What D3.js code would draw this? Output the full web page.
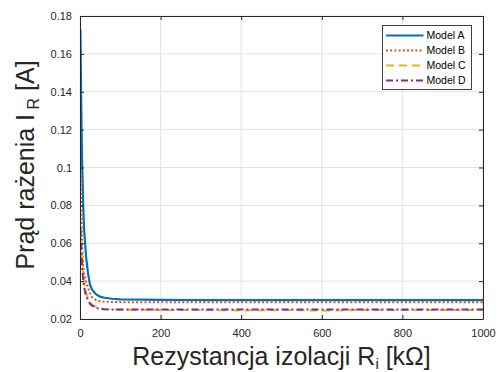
<!DOCTYPE html>
<html>
<head>
<meta charset="utf-8">
<script src="https://cdn.jsdelivr.net/npm/d3@7"></script>
<style>
  body { margin: 0; background: #fff; }
  svg { display: block; font-family: 'Liberation Sans', Arial, sans-serif; }
</style>
</head>
<body>
<script>
var width = 498;
var height = 372;
var margin = { top: 16, right: 15, bottom: 53, left: 80 };

// insulation resistance [kOhm]
var resistance = [1, 3, 5, 8, 10, 15, 20, 25, 30, 40, 50, 60, 80, 100, 150, 200, 300, 400, 500, 600, 700, 800, 900, 1000];
var modelA = [0.173, 0.135, 0.105, 0.080, 0.068, 0.053, 0.044, 0.038, 0.0355, 0.0330, 0.0318, 0.0312, 0.0307, 0.0304, 0.0302, 0.0301, 0.0300, 0.0300, 0.0300, 0.0300, 0.0300, 0.0300, 0.0300, 0.0300];
var modelB = [0.100, 0.078, 0.060, 0.048, 0.044, 0.040, 0.0365, 0.0335, 0.0315, 0.0300, 0.0293, 0.0291, 0.0290, 0.0289, 0.0288, 0.0288, 0.0288, 0.0288, 0.0288, 0.0288, 0.0288, 0.0288, 0.0288, 0.0288];
var modelC = [0.076, 0.062, 0.052, 0.043, 0.040, 0.034, 0.0305, 0.0288, 0.0276, 0.0264, 0.0257, 0.0253, 0.0250, 0.0249, 0.0249, 0.0248, 0.0248, 0.0245, 0.0248, 0.0244, 0.0248, 0.0248, 0.0248, 0.0247];
var modelD = [0.068, 0.057, 0.049, 0.040, 0.037, 0.032, 0.0300, 0.0280, 0.0270, 0.0258, 0.0253, 0.0251, 0.0250, 0.0250, 0.0250, 0.0250, 0.0250, 0.0250, 0.0250, 0.0250, 0.0250, 0.0250, 0.0250, 0.0250];

var xTicks = [0, 200, 400, 600, 800, 1000];
var yTicks = [0.02, 0.04, 0.06, 0.08, 0.1, 0.12, 0.14, 0.16, 0.18];

var series = [
  { name: 'Model A', values: modelA, color: '#0072BD', dash: null, w: 2.2 },
  { name: 'Model B', values: modelB, color: '#D95319', dash: '2,2.2', w: 2 },
  { name: 'Model C', values: modelC, color: '#EDB120', dash: '8,5', w: 2 },
  { name: 'Model D', values: modelD, color: '#7E2F8E', dash: '7,3,2,3', w: 2 }
];

var plotW = width - margin.left - margin.right;
var plotH = height - margin.top - margin.bottom;

var svg = d3.select('body')
  .append('svg')
  .attr('width', width)
  .attr('height', height);

var g = svg.append('g')
  .attr('transform', 'translate(' + margin.left + ',' + margin.top + ')');

var xScale = d3.scaleLinear()
  .domain([0, 1000])
  .range([0, plotW]);

var yScale = d3.scaleLinear()
  .domain([0.02, 0.18])
  .range([plotH, 0]);

// grid
g.selectAll('line.gx')
  .data(xTicks)
  .enter()
  .append('line')
  .attr('class', 'gx')
  .attr('x1', function(d) { return xScale(d); })
  .attr('x2', function(d) { return xScale(d); })
  .attr('y1', 0)
  .attr('y2', plotH)
  .attr('stroke', '#e3e3e3')
  .attr('stroke-width', 1);

g.selectAll('line.gy')
  .data(yTicks)
  .enter()
  .append('line')
  .attr('class', 'gy')
  .attr('x1', 0)
  .attr('x2', plotW)
  .attr('y1', function(d) { return yScale(d); })
  .attr('y2', function(d) { return yScale(d); })
  .attr('stroke', '#e3e3e3')
  .attr('stroke-width', 1);

// lines
g.append('clipPath')
  .attr('id', 'clip')
  .append('rect')
  .attr('width', plotW)
  .attr('height', plotH);

var line = d3.line()
  .x(function(d, i) { return xScale(resistance[i]); })
  .y(function(d) { return yScale(d); });

g.append('g')
  .attr('clip-path', 'url(#clip)')
  .selectAll('path')
  .data(series)
  .enter()
  .append('path')
  .attr('d', function(d) { return line(d.values); })
  .attr('fill', 'none')
  .attr('stroke', function(d) { return d.color; })
  .attr('stroke-width', function(d) { return d.w; })
  .attr('stroke-dasharray', function(d) { return d.dash; });

// axes
var axisColor = '#262626';

var xAxis = d3.axisBottom(xScale)
  .tickValues(xTicks)
  .tickSizeInner(-4)
  .tickSizeOuter(0)
  .tickPadding(10)
  .tickFormat(d3.format('d'));

var yAxis = d3.axisLeft(yScale)
  .tickValues(yTicks)
  .tickSizeInner(-4)
  .tickSizeOuter(0)
  .tickPadding(8)
  .tickFormat(function(d) { return d3.format('~g')(d); });

var xg = g.append('g')
  .attr('transform', 'translate(0,' + plotH + ')')
  .call(xAxis);

var yg = g.append('g')
  .call(yAxis);

var topAxis = g.append('g')
  .call(d3.axisTop(xScale).tickValues(xTicks).tickSizeInner(-4).tickSizeOuter(0).tickFormat(''));

var rightAxis = g.append('g')
  .attr('transform', 'translate(' + plotW + ',0)')
  .call(d3.axisRight(yScale).tickValues(yTicks).tickSizeInner(-4).tickSizeOuter(0).tickFormat(''));

[xg, yg, topAxis, rightAxis].forEach(function(a) {
  a.selectAll('path').attr('stroke', axisColor).attr('stroke-width', 1);
  a.selectAll('line').attr('stroke', axisColor);
  a.selectAll('text')
    .attr('fill', axisColor)
    .attr('font-size', '11px')
    .attr('font-family', "'Liberation Sans', Arial, sans-serif");
});

// axis titles
var xTitle = svg.append('text')
  .attr('x', margin.left + plotW / 2)
  .attr('y', 365)
  .attr('text-anchor', 'middle')
  .attr('font-size', '25px')
  .attr('fill', axisColor);
xTitle.append('tspan').text('Rezystancja izolacji R');
xTitle.append('tspan')
  .attr('font-size', '15px')
  .attr('dy', 4)
  .text('i');
xTitle.append('tspan')
  .attr('dy', -4)
  .text(' [kΩ]');

var yTitle = svg.append('text')
  .attr('transform', 'translate(34,165) rotate(-90)')
  .attr('text-anchor', 'middle')
  .attr('font-size', '25px')
  .attr('fill', axisColor);
yTitle.append('tspan').text('Prąd rażenia I');
yTitle.append('tspan')
  .attr('font-size', '16px')
  .attr('dy', 5)
  .text(' R');
yTitle.append('tspan')
  .attr('dy', -5)
  .text(' [A]');

// legend
var legend = svg.append('g')
  .attr('transform', 'translate(382.5,25.5)');

legend.append('rect')
  .attr('width', 89)
  .attr('height', 64)
  .attr('fill', '#fff')
  .attr('stroke', '#404040')
  .attr('stroke-width', 1);

var items = legend.selectAll('g.item')
  .data(series)
  .enter()
  .append('g')
  .attr('class', 'item')
  .attr('transform', function(d, i) { return 'translate(0,' + (10 + i * 15) + ')'; });

items.append('line')
  .attr('x1', 3.5)
  .attr('x2', 41)
  .attr('y1', 0)
  .attr('y2', 0)
  .attr('stroke', function(d) { return d.color; })
  .attr('stroke-width', function(d) { return d.w; })
  .attr('stroke-dasharray', function(d) { return d.dash; });

items.append('text')
  .attr('x', 44)
  .attr('y', 3.8)
  .attr('font-size', '10.5px')
  .attr('fill', '#000')
  .text(function(d) { return d.name; });
</script>
</body>
</html>
